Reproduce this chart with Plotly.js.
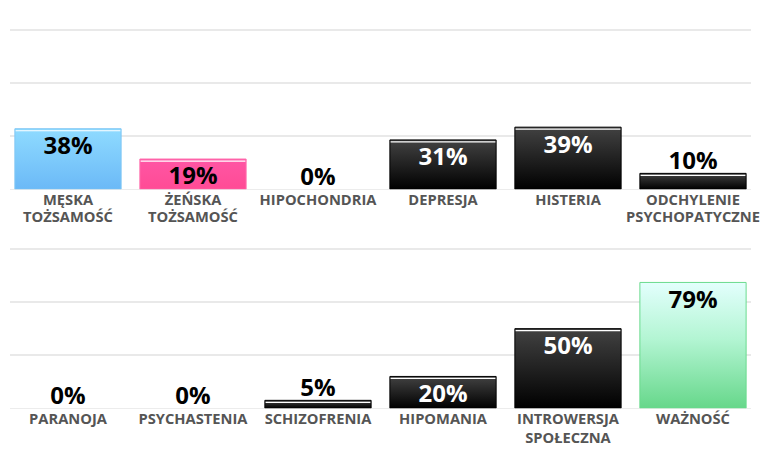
<!DOCTYPE html>
<html>
<head>
<meta charset="utf-8">
<script src="https://cdn.plot.ly/plotly-3.0.1.min.js"></script>
<style>html,body{margin:0;padding:0;background:#fff;}#chart{width:760px;height:470px;}</style>
</head>
<body>
<div id="chart"></div>
<script>
// ---- data ----
const topLabels = ["MĘSKA<br>TOŻSAMOŚĆ", "ŻEŃSKA<br>TOŻSAMOŚĆ", "HIPOCHONDRIA", "DEPRESJA", "HISTERIA", "ODCHYLENIE<br>PSYCHOPATYCZNE"];
const topValues = [38, 19, 0, 31, 39, 10];
const bottomLabels = ["PARANOJA", "PSYCHASTENIA", "SCHIZOFRENIA", "HIPOMANIA", "INTROWERSJA<br>SPOŁECZNA", "WAŻNOŚĆ"];
const bottomValues = [0, 0, 5, 20, 50, 79];
const topStyles = ["blue", "pink", "black", "black", "black", "black"];
const bottomStyles = ["black", "black", "black", "black", "black", "green"];

// ---- styles ----
const styleDef = {
  blue:  {line: "#7fc6f4", text: "#000", stops: [["0%", "#8fdbff"], ["100%", "#6bb9f7"]], hl: true},
  pink:  {line: "#ff6fae", text: "#000", stops: [["0%", "#ff56a4"], ["100%", "#ff4b95"]], hl: true},
  black: {line: "#000000", text: "#fff", stops: [["0%", "#424242"], ["100%", "#000000"]], hl: true},
  green: {line: "#6adb8e", text: "#000", stops: [["0%", "#e3fffd"], ["45%", "#b3f5d3"], ["100%", "#66d78a"]], hl: false}
};
const BW = 0.85;
const traceStyles = [];   // styles per trace, for post-processing
const traceGroups = [];

function groupOf(v) { return v >= 25 ? "end" : (v >= 15 ? "middle" : "outside"); }
const textShift = {end: -3.5, middle: 0, outside: 6};

function makeTraces(labels, values, styles, xa, ya) {
  const out = [];
  ["end", "middle", "outside"].forEach(g => {
    const idx = values.map((v, i) => i).filter(i => groupOf(values[i]) === g);
    if (!idx.length) return;
    const vals = idx.map(i => values[i]);
    const st = idx.map(i => styles[i]);
    const inside = g !== "outside";
    out.push({
      type: "bar", x: idx, y: vals, xaxis: xa, yaxis: ya,
      width: BW,
      text: vals.map(v => v + "%"),
      textposition: inside ? "inside" : "outside",
      insidetextanchor: g === "end" ? "end" : "middle",
      textangle: 0,
      constraintext: "none",
      cliponaxis: false,
      textfont: {family: "Open Sans", size: 24, color: inside ? st.map(s => styleDef[s].text) : "#000", weight: 700},
      marker: {color: st.map(s => styleDef[s].stops[0][1]),
               line: {color: st.map(s => styleDef[s].line), width: vals.map(v => v > 0 ? 1 : 0)}},
      hoverinfo: "none"
    });
    traceStyles.push(st);
    traceGroups.push(g);
  });
  return out;
}

function highlightShapes(values, styles, xa, ya) {
  const out = [];
  values.forEach((v, i) => {
    if (v <= 0 || !styleDef[styles[i]].hl) return;
    out.push({type: "line", xref: xa, yref: ya, x0: i - BW / 2 + 0.006, x1: i + BW / 2 - 0.006,
      ysizemode: "pixel", yanchor: v, y0: -2, y1: -2, line: {color: "#ffffff", width: 1.2}, layer: "above"});
  });
  return out;
}

const gridColor = "#e9e9e9";
function yax(domain) {
  return {domain: domain, range: [0, 101], tick0: 0, dtick: 100 / 3, showticklabels: false,
    showgrid: true, gridcolor: gridColor, gridwidth: 1.5, zeroline: true, zerolinecolor: "#ececec", zerolinewidth: 1, fixedrange: true};
}
function xax(labels, anchor) {
  return {anchor: anchor, range: [-0.464, 5.464], tickmode: "array", tickvals: labels.map((_, i) => i), ticktext: labels,
    showgrid: false, zeroline: false, showline: false, ticks: "", ticklen: 0, ticklabeloverflow: "allow",
    tickfont: {family: "Open Sans", size: 14.7, color: "#555555", weight: 700}, fixedrange: true};
}

const data = makeTraces(topLabels, topValues, topStyles, "x", "y")
  .concat(makeTraces(bottomLabels, bottomValues, bottomStyles, "x2", "y2"));

const layout = {
  width: 760, height: 470,
  margin: {l: 10, r: 9, t: 0, b: 0},
  paper_bgcolor: "#fff", plot_bgcolor: "#fff",
  showlegend: false,
  barmode: "overlay",
  xaxis: xax(topLabels, "y"),
  yaxis: yax([1 - 189.3 / 470, 1 - 28.4 / 470]),
  xaxis2: xax(bottomLabels, "y2"),
  yaxis2: yax([1 - 408.3 / 470, 1 - 247.4 / 470]),
  shapes: highlightShapes(topValues, topStyles, "x", "y").concat(highlightShapes(bottomValues, bottomStyles, "x2", "y2"))
};

Plotly.newPlot("chart", data, layout, {displayModeBar: false, staticPlot: true}).then(gd => {
  const svg = gd.querySelector("svg.main-svg");
  const ns = "http://www.w3.org/2000/svg";
  const defs = svg.querySelector("defs");
  Object.keys(styleDef).forEach(k => {
    const g = document.createElementNS(ns, "linearGradient");
    g.setAttribute("id", "grad-" + k);
    g.setAttribute("x1", "0"); g.setAttribute("y1", "0"); g.setAttribute("x2", "0"); g.setAttribute("y2", "1");
    styleDef[k].stops.forEach(([o, c]) => {
      const s = document.createElementNS(ns, "stop");
      s.setAttribute("offset", o); s.setAttribute("stop-color", c);
      g.appendChild(s);
    });
    defs.appendChild(g);
  });
  gd.querySelectorAll(".barlayer .trace").forEach((tr, ti) => {
    const styles = traceStyles[ti];
    const shift = textShift[traceGroups[ti]] || 0;
    tr.querySelectorAll(".point").forEach((pt, pi) => {
      const p = pt.querySelector("path");
      if (p && styles && styles[pi]) p.style.fill = "url(#grad-" + styles[pi] + ")";
      const t = pt.querySelector("text");
      if (t && shift) t.setAttribute("transform", "translate(0," + shift + ") " + (t.getAttribute("transform") || ""));
    });
  });
  gd.querySelectorAll(".xtick text tspan.line").forEach(t => {
    const dy = t.getAttribute("dy");
    if (dy && parseFloat(dy) > 0) t.setAttribute("dy", (parseFloat(dy) / 1.3 * 1.15) + "em");
  });
});
</script>
</body>
</html>
